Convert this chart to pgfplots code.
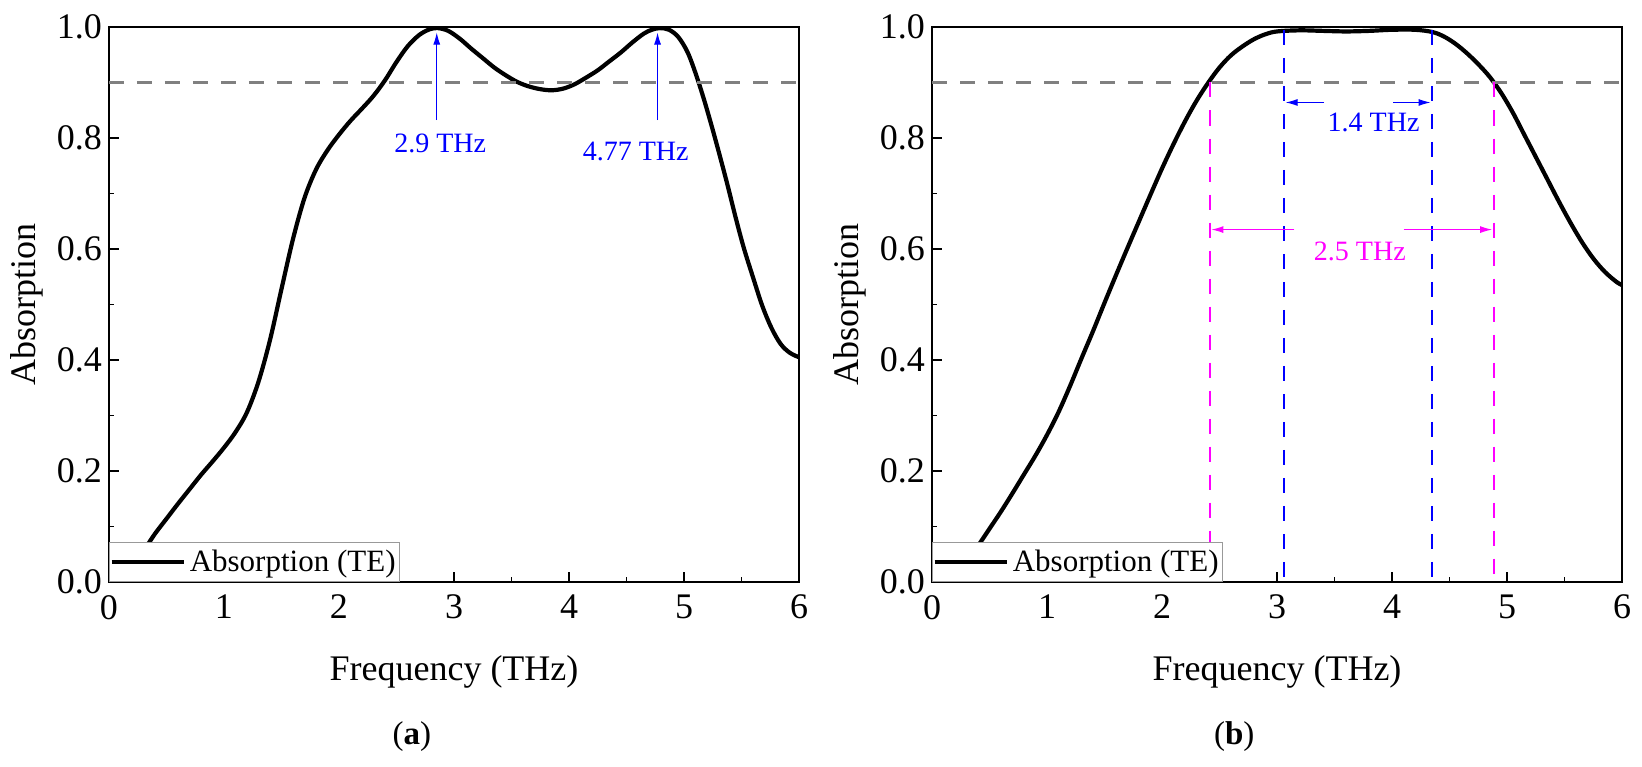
\documentclass[border=0pt]{standalone}
\usepackage{fontspec}
\setmainfont{Liberation Serif}
\usepackage{pgfplots}
\pgfplotsset{compat=1.18}
\usetikzlibrary{arrows.meta}
\definecolor{dgray}{RGB}{128,128,128}
\definecolor{mag}{RGB}{255,0,255}
\definecolor{blu}{RGB}{0,0,255}

\tikzset{
  arr/.style={line width=0.5pt, -{Latex[length=6pt,width=3.5pt]}},
  ann/.style={font=\fontsize{14}{16}\selectfont},
  curve/.style={black, line width=2.1pt, smooth, tension=0.55},
  dsh/.style={line width=1.2pt, dash pattern=on 7.5pt off 6.5pt},
}

\pgfplotsset{
  myax/.style={
    scale only axis, width=345pt, height=277.5pt,
    xmin=0, xmax=6, ymin=0, ymax=1,
    clip mode=individual,
    xtick={0,1,2,3,4,5,6}, ytick={0,0.2,0.4,0.6,0.8,1.0},
    minor x tick num=1, minor y tick num=1,
    tick pos=left, tick align=inside,
    major tick length=5pt, minor tick length=2.5pt,
    every tick/.style={black, line width=0.8pt},
    axis line style={line width=0.8pt},
    /pgf/number format/assume math mode=true,
    ticklabel style={font=\fontsize{18}{20}\selectfont},
    yticklabel style={/pgf/number format/fixed, /pgf/number format/fixed zerofill, /pgf/number format/precision=1},
    xticklabel style={yshift=-3pt},
    xlabel={Frequency (THz)}, ylabel={Absorption},
    label style={font=\fontsize{18}{20}\selectfont},
    xlabel style={at={(axis description cs:0.5,-0.1622)}, anchor=center},
    ylabel style={at={(axis description cs:-0.1188,0.5)}, anchor=center},
    legend style={at={(axis description cs:0,0)}, anchor=south west, draw=gray!80, line width=0.6pt, fill=white,
      font=\fontsize{15.5}{17}\selectfont, inner xsep=0pt, inner ysep=0pt,
      nodes={inner xsep=2pt, inner ysep=3.5pt}},
    legend cell align=left,
    legend image code/.code={\draw[line width=2.1pt, black] (0pt,0pt) -- (36pt,0pt);},
  },
}

\begin{document}
\begin{tikzpicture}
\useasboundingbox (-54.5pt,-92pt) rectangle (766.5pt,291pt);

\begin{axis}[myax, at={(0pt,0pt)}, anchor=south west]
\addplot[curve] coordinates {
(0.33,0.065) (0.4,0.087) (0.5,0.114) (0.6,0.141) (0.7,0.167) (0.8,0.193) (0.9,0.217)
(1.0,0.242) (1.1,0.270) (1.2,0.306) (1.3,0.361) (1.4,0.436) (1.5,0.528) (1.6,0.618)
(1.7,0.692) (1.8,0.743) (1.9,0.778) (2.0,0.806) (2.1,0.831) (2.2,0.853) (2.3,0.876)
(2.4,0.904) (2.5,0.937) (2.6,0.966) (2.7,0.986) (2.79,0.996) (2.86,0.998) (2.95,0.993)
(3.05,0.979) (3.15,0.961) (3.25,0.944) (3.35,0.927) (3.45,0.913) (3.55,0.901)
(3.65,0.893) (3.75,0.888) (3.85,0.886) (3.95,0.889) (4.05,0.897) (4.15,0.909)
(4.25,0.922) (4.35,0.938) (4.45,0.954) (4.55,0.972) (4.65,0.988) (4.72,0.995)
(4.79,0.998) (4.87,0.995) (4.95,0.982) (5.03,0.955) (5.1,0.917) (5.17,0.872)
(5.24,0.822) (5.31,0.769) (5.38,0.714) (5.45,0.656) (5.52,0.602) (5.6,0.549)
(5.68,0.498) (5.76,0.458) (5.84,0.429) (5.92,0.413) (6.0,0.405)
};
\addlegendentry{Absorption (TE)}
\addplot[dsh, dgray, line width=1.3pt, forget plot] coordinates {(0,0.9) (6,0.9)};
\draw[arr, blu] (axis cs:2.85,0.832) -- (axis cs:2.85,0.99);
\draw[arr, blu] (axis cs:4.77,0.832) -- (axis cs:4.77,0.99);
\node[ann, blu] at (axis cs:2.88,0.791) {2.9 THz};
\node[ann, blu] at (axis cs:4.58,0.775) {4.77 THz};
\node[font=\fontsize{16.5}{18}\selectfont] at (axis description cs:0.439,-0.279) {(\textbf{a})};
\end{axis}

\begin{axis}[myax, at={(411.5pt,0pt)}, anchor=south west]
\addplot[curve] coordinates {
(0.40,0.065) (0.5,0.096) (0.6,0.127) (0.7,0.160) (0.8,0.194) (0.9,0.228) (1.0,0.265)
(1.1,0.306) (1.2,0.353) (1.3,0.403) (1.4,0.452) (1.5,0.503) (1.6,0.553) (1.7,0.602)
(1.8,0.650) (1.9,0.698) (2.0,0.745) (2.1,0.789) (2.2,0.830) (2.3,0.867) (2.4,0.899)
(2.5,0.927) (2.6,0.949) (2.7,0.965) (2.8,0.978) (2.9,0.987) (3.0,0.992) (3.2,0.994)
(3.4,0.993) (3.6,0.992) (3.8,0.993) (4.0,0.995) (4.2,0.995) (4.35,0.991) (4.45,0.983)
(4.55,0.970) (4.65,0.953) (4.75,0.933) (4.85,0.910) (4.95,0.881) (5.05,0.846)
(5.15,0.806) (5.25,0.766) (5.35,0.726) (5.45,0.686) (5.55,0.648) (5.65,0.613)
(5.75,0.583) (5.85,0.559) (5.95,0.541) (6.0,0.535)
};
\addlegendentry{Absorption (TE)}
\addplot[dsh, dgray, line width=1.3pt, forget plot] coordinates {(0,0.9) (6,0.9)};
\addplot[dsh, mag, forget plot] coordinates {(2.415,0.9) (2.415,0)};
\addplot[dsh, mag, forget plot] coordinates {(4.885,0.9) (4.885,0)};
\addplot[dsh, blu, forget plot] coordinates {(3.06,0.995) (3.06,0)};
\addplot[dsh, blu, forget plot] coordinates {(4.35,0.995) (4.35,0)};
\draw[arr, blu] (axis cs:3.41,0.864) -- (axis cs:3.075,0.864);
\draw[arr, blu] (axis cs:4.01,0.864) -- (axis cs:4.335,0.864);
\draw[arr, mag] (axis cs:3.15,0.635) -- (axis cs:2.43,0.635);
\draw[arr, mag] (axis cs:4.10,0.635) -- (axis cs:4.87,0.635);
\node[ann, blu] at (axis cs:3.84,0.828) {1.4 THz};
\node[ann, mag] at (axis cs:3.72,0.596) {2.5 THz};
\node[font=\fontsize{16.5}{18}\selectfont] at (axis description cs:0.438,-0.279) {(\textbf{b})};
\end{axis}
\end{tikzpicture}
\end{document}
